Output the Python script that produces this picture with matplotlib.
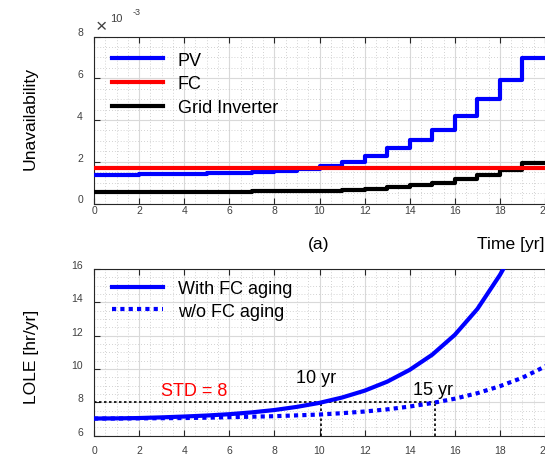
import matplotlib
matplotlib.use("Agg")
import matplotlib.pyplot as plt
import matplotlib.transforms as mtransforms
from matplotlib.ticker import MultipleLocator

plt.rcParams['font.family'] = ['Liberation Sans', 'DejaVu Sans']

# ---- Top panel data (x 1e-3) ----
years_step = list(range(0, 20))
pv = [1.38, 1.38, 1.40, 1.40, 1.42, 1.44, 1.47, 1.50, 1.55, 1.66,
      1.81, 2.00, 2.29, 2.64, 3.04, 3.52, 4.21, 5.01, 5.92, 6.96]
fc = [1.70] * 20
gi = [0.57, 0.57, 0.57, 0.57, 0.57, 0.57, 0.57, 0.59, 0.60, 0.61,
      0.62, 0.65, 0.69, 0.77, 0.87, 1.00, 1.17, 1.37, 1.61, 1.93]
step_end = 22

# ---- Bottom panel data ----
x_aging = [0, 1, 2, 3, 4, 5, 6, 7, 8, 9, 10, 11, 12, 13, 14, 15, 16, 17, 18, 18.15]
lole_aging = [7.03, 7.04, 7.06, 7.10, 7.15, 7.21, 7.29, 7.40, 7.54, 7.73,
              7.97, 8.29, 8.70, 9.24, 9.95, 10.86, 12.05, 13.60, 15.64, 16.0]
x_noaging = list(range(0, 22))
lole_noaging = [7.03, 7.03, 7.04, 7.05, 7.06, 7.08, 7.11, 7.14, 7.17, 7.22,
                7.27, 7.35, 7.45, 7.58, 7.75, 7.96, 8.22, 8.55, 8.97, 9.48,
                10.15, 10.95]
std_value = 8
cross_aging = 10.05
cross_noaging = 15.1

xticks = list(range(0, 21, 2))
top_yticks = [0, 2, 4, 6, 8]
bot_yticks = [6, 8, 10, 12, 14, 16]

W, H = 545, 456
fig = plt.figure(figsize=(W / 100, H / 100), dpi=100)

px_per_unit = 22.55
xmax = 22
left = 94 / W
width = xmax * px_per_unit / W

ax1 = fig.add_axes([left, 1 - 204.5 / H, width, 167 / H])
ax2 = fig.add_axes([left, 1 - 436.7 / H, width, 166.7 / H])

blue = '#0000ff'
red = '#ff0000'

def extend(vals):
    return list(vals) + [vals[-1]]

xs = years_step + [step_end]
ax1.step(xs, extend(pv), where='post', color=blue, lw=3, label='PV', zorder=3)
ax1.step(xs, extend(fc), where='post', color=red, lw=3, label='FC', zorder=4)
ax1.step(xs, extend(gi), where='post', color='black', lw=3, label='Grid Inverter', zorder=3)
ax1.set_ylim(0, 8)

ax2.plot(x_aging, lole_aging, color=blue, lw=3, label='With FC aging', zorder=3)
ax2.plot(x_noaging, lole_noaging, color=blue, lw=3, dashes=(1.0, 1.0),
         dash_capstyle='butt', label='w/o FC aging', zorder=3)
ax2.plot([0, cross_noaging], [std_value, std_value], color='black', lw=1.2,
         dashes=(1.5, 1.5), zorder=2)
ax2.plot([cross_aging, cross_aging], [6, std_value], color='black', lw=1.2,
         dashes=(1.5, 1.5), zorder=2)
ax2.plot([cross_noaging, cross_noaging], [6, std_value], color='black', lw=1.2,
         dashes=(1.5, 1.5), zorder=2)
ax2.set_ylim(6, 16)

for ax, yt in ((ax1, top_yticks), (ax2, bot_yticks)):
    ax.set_xlim(0, xmax)
    ax.set_xticks(xticks)
    ax.set_yticks(yt)
    ax.xaxis.set_minor_locator(MultipleLocator(0.5))
    ax.yaxis.set_minor_locator(MultipleLocator(0.5))
    ax.grid(which='major', color='#d9d9d9', lw=0.8, ls='-', zorder=0)
    ax.grid(which='minor', color='#c4c4c4', lw=0.6, ls=(0, (1, 2.5)), zorder=0)
    ax.set_axisbelow(True)
    ax.tick_params(which='major', direction='in', length=4, width=0.8,
                   top=True, right=True, labelsize=7.5, colors='#262626',
                   labelcolor='#404040')
    ax.tick_params(which='minor', length=0)
    ax.tick_params(axis='y', pad=8)
    for s in ax.spines.values():
        s.set_color('#262626')
        s.set_linewidth(0.8)
    yoff = mtransforms.ScaledTranslation(0, 5 / 100, fig.dpi_scale_trans)
    for lab in ax.get_yticklabels():
        lab.set_transform(lab.get_transform() + yoff)
    xoff = mtransforms.ScaledTranslation(-3.5 / 100, 0, fig.dpi_scale_trans)
    for lab in ax.get_xticklabels():
        lab.set_transform(lab.get_transform() + xoff)

ax1.tick_params(axis='x', pad=1)
ax2.tick_params(axis='x', pad=7)

leg_kw = dict(loc='upper left', frameon=False, fontsize=13, handlelength=2.8,
              handletextpad=0.85, borderpad=0, borderaxespad=0)
ax1.legend(bbox_to_anchor=(18 / (xmax * px_per_unit), 0.91), labelspacing=0.37, **leg_kw)
ax2.legend(bbox_to_anchor=(18 / (xmax * px_per_unit), 0.935), labelspacing=0.33, **leg_kw)

# Exponent label
fig.text(101.5 / W, 1 - 28 / H, '×', fontsize=14, ha='center', va='center',
         color='#404040', fontweight='light')
fig.text(116.5 / W, 1 - 19.5 / H, '10', fontsize=8, ha='center', va='center', color='#404040')
fig.text(137 / W, 1 - 12.5 / H, '-3', fontsize=6.5, ha='center', va='center', color='#404040')

fig.text(30 / W, 1 - 118 / H, 'Unavailability', rotation=90, fontsize=12.6,
         ha='center', va='center')
fig.text(31.5 / W, 1 - 357 / H, 'LOLE [hr/yr]', rotation=90, fontsize=12.6,
         ha='center', va='center')
fig.text(319 / W, 1 - 245 / H, '(a)', fontsize=12.6, ha='center', va='center')
fig.text(477 / W, 1 - 245 / H, 'Time [yr]', fontsize=12.6, ha='left', va='center')

fig.text(194.5 / W, 1 - 392 / H, 'STD = 8', fontsize=13, color=red,
         ha='center', va='center')
fig.text(316.5 / W, 1 - 378.5 / H, '10 yr', fontsize=13, ha='center', va='center')
fig.text(433 / W, 1 - 391 / H, '15 yr', fontsize=13, ha='center', va='center')

fig.savefig('out.png', dpi=100)
